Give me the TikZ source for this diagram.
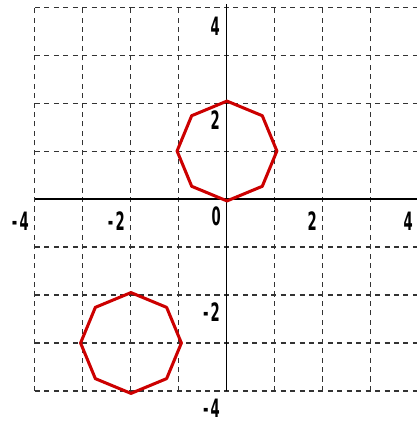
\documentclass[tikz,border=0pt]{standalone}
\usepackage{fontspec}
\usepackage{graphicx}
\setmainfont{DejaVu Sans}
\tikzset{
  gridline/.style={black!80, line width=0.6pt, dash pattern=on 3pt off 2.6pt},
  axisline/.style={black, line width=0.6pt},
  octa/.style={draw=red!80!black, line width=1.8pt, line join=round},
  xlab/.style={anchor=north east, inner sep=0pt, xshift=-3.5pt, yshift=-7.5pt, font=\fontsize{15}{15}\selectfont\bfseries},
  ylab/.style={anchor=north east, inner sep=0pt, xshift=-4pt, yshift=-4.5pt, font=\fontsize{15}{15}\selectfont\bfseries}
}
\newcommand{\narrowlab}[1]{\scalebox{0.52}[1]{#1}}
\begin{document}
\begin{tikzpicture}[x=1cm,y=1cm]
\useasboundingbox (-4.729,-4.625) rectangle (3.958,4.146);
% grid
\foreach \v in {-4,...,4} {
  \draw[gridline] (\v,-4) -- (\v,4);
  \draw[gridline] (-4,\v) -- (4,\v);
}
% axes
\draw[axisline] (-4,0) -- (4.1,0);
\draw[axisline] (0,-4) -- (0,4.07);
% labels
\node[xlab] (xm4) at (-4,0) {\narrowlab{-\,4}};
\node[xlab] (xm2) at (-2,0) {\narrowlab{-\,2}};
\node[xlab] (xz) at (0,0) [yshift=3pt] {\narrowlab{0}};
\node[xlab] (xp2) at (2,0) {\narrowlab{2}};
\node[xlab] (xp4) at (4,0) {\narrowlab{4}};
\node[ylab] (yp4) at (0,4) [yshift=-1.5pt] {\narrowlab{4}};
\node[ylab] (yp2) at (0,2) {\narrowlab{2}};
\node[ylab] (ym2) at (0,-2) {\narrowlab{-\,2}};
\node[ylab] (ym4) at (0,-4) {\narrowlab{-\,4}};
% octagons
\begin{scope}[shift={(0,1)}]
\draw[octa] (90:1.04) -- (135:1.04) -- (180:1.04) -- (225:1.04) -- (270:1.04) -- (315:1.04) -- (0:1.04) -- (45:1.04) -- cycle;
\end{scope}
\begin{scope}[shift={(-2,-3)}]
\draw[octa] (90:1.05) -- (135:1.05) -- (180:1.05) -- (225:1.05) -- (270:1.05) -- (315:1.05) -- (0:1.05) -- (45:1.05) -- cycle;
\end{scope}
\end{tikzpicture}
\end{document}
